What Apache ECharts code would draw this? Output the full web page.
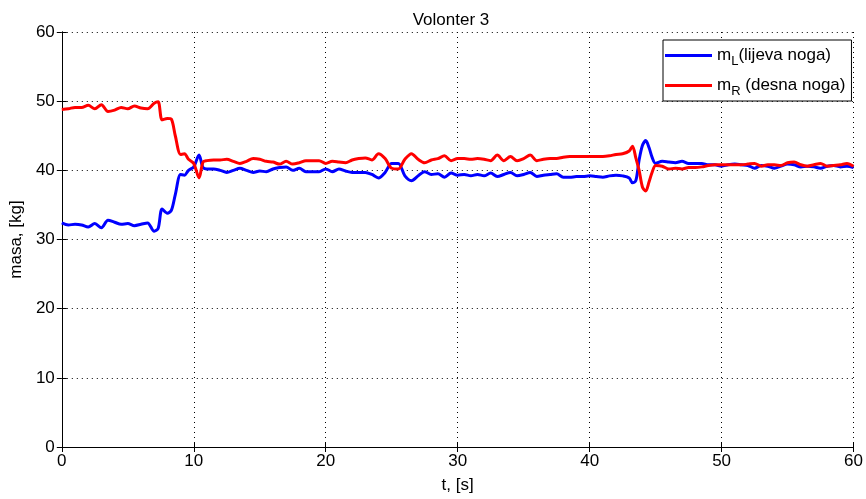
<!DOCTYPE html>
<html>
<head>
<meta charset="utf-8">
<script src="https://cdn.jsdelivr.net/npm/echarts@6/dist/echarts.min.js"></script>
<style>
  html, body { margin: 0; padding: 0; background: #fff; }
  #chart { width: 866px; height: 499px; }
</style>
</head>
<body>
<div id="chart"></div>
<script>
// time samples, [s]
const times = [
  0, 0.5, 1, 1.5, 2, 2.5, 3, 3.5, 4, 4.5, 5, 5.5, 6, 6.5, 7,
  7.3, 7.6, 8, 8.3, 8.6, 9, 9.3, 9.6, 10, 10.4, 10.7,
  11, 11.5, 12, 12.5, 13, 13.5, 14, 14.5, 15, 15.5, 16, 16.5, 17, 17.5, 18, 18.5,
  19, 19.5, 20, 20.5, 21, 21.5, 22, 22.5, 23, 23.5, 24, 24.5, 25, 25.5, 26, 26.5,
  27, 27.5, 28, 28.5, 29, 29.5, 30, 30.5, 31, 31.5, 32, 32.5, 33, 33.5, 34, 34.5,
  35, 35.5, 36, 36.5, 37, 37.5, 38, 38.5, 39, 39.5, 40, 40.5, 41, 41.5, 42, 42.5, 43,
  43.25, 43.5, 43.75, 44, 44.25, 44.5, 44.75,
  45, 45.5, 46, 46.5, 47, 47.5, 48, 48.5, 49, 49.5, 50, 50.5, 51, 51.5, 52, 52.5,
  53, 53.5, 54, 54.5, 55, 55.5, 56, 56.5, 57, 57.5, 58, 58.5, 59, 59.5, 60
];

// lijeva noga
const massL = [
  32.4, 32.1, 32.2, 32.1, 31.8, 32.3, 31.7, 32.8, 32.5, 32.2, 32.3, 32.0, 32.2, 32.4, 31.2,
  31.6, 34.4, 33.8, 34.2, 36.5, 39.4, 39.3, 40.0, 40.5, 42.2, 40.4,
  40.2, 40.2, 40.0, 39.7, 40.0, 40.3, 40.0, 39.7, 39.9, 39.8, 40.2, 40.4, 40.5, 40.0, 40.3, 39.8,
  39.8, 39.8, 40.2, 39.8, 40.2, 39.9, 39.7, 39.7, 39.7, 39.4, 38.9, 39.7, 41.0, 41.0, 39.2, 38.5,
  39.2, 39.8, 39.4, 39.5, 39.0, 39.6, 39.3, 39.4, 39.2, 39.4, 39.2, 39.6, 39.1, 39.4, 39.7, 39.2,
  39.4, 39.7, 39.1, 39.3, 39.4, 39.5, 39.0, 39.0, 39.1, 39.1, 39.2, 39.1, 39.0, 39.2, 39.3, 39.2, 38.9,
  38.2, 38.5, 41.5, 43.6, 44.3, 43.3, 41.8,
  41.0, 41.3, 41.2, 41.1, 41.3, 41.0, 41.0, 41.0, 40.8, 40.8, 40.6, 40.8, 40.9, 40.8, 40.7, 40.3,
  40.7, 40.6, 40.3, 40.6, 40.9, 40.8, 40.5, 40.6, 40.5, 40.3, 40.6, 40.7, 40.5, 40.6, 40.4
];

// desna noga
const massR = [
  48.8, 48.9, 49.1, 49.1, 49.4, 48.9, 49.5, 48.5, 48.7, 49.1, 48.9, 49.3, 49.0, 48.9, 49.7,
  49.9, 47.3, 47.5, 47.4, 45.0, 42.3, 42.4, 41.6, 41.0, 38.9, 41.2,
  41.4, 41.5, 41.5, 41.6, 41.3, 41.0, 41.3, 41.7, 41.6, 41.3, 41.2, 40.9, 41.3, 40.9, 41.1, 41.4,
  41.4, 41.4, 41.0, 41.3, 41.2, 41.1, 41.5, 41.7, 41.8, 41.5, 42.4, 41.7, 40.3, 40.2, 41.6, 42.4,
  41.6, 41.1, 41.5, 41.7, 42.1, 41.4, 41.7, 41.7, 41.6, 41.7, 41.6, 41.4, 42.2, 41.4, 42.0, 41.4,
  41.7, 42.2, 41.4, 41.6, 41.7, 41.7, 41.9, 42.0, 42.0, 42.0, 42.0, 42.0, 42.0, 42.1, 42.3, 42.4, 42.8,
  43.5, 41.8, 40.0, 37.6, 37.0, 38.3, 39.8,
  40.7, 40.6, 40.2, 40.3, 40.2, 40.4, 40.4, 40.5, 40.7, 40.8, 40.8, 40.8, 40.8, 40.8, 40.9, 41.0,
  40.6, 40.8, 40.8, 40.7, 41.1, 41.2, 40.8, 40.6, 40.8, 41.0, 40.6, 40.7, 40.8, 41.0, 40.6
];

const legendLabels = {
  mL: '{m|m}{sub|L}{m|(lijeva noga)}',
  mR: '{m|m}{sub|R}{m| (desna noga)}'
};

const FONT = 'Liberation Sans, Arial, sans-serif';

const chart = echarts.init(document.getElementById('chart'));

const gridLine = { show: true, lineStyle: { color: '#000', width: 1, type: [1, 4] } };
const tickIn = { show: true, inside: true, length: 5, lineStyle: { color: '#000' } };
const axisLineBlack = { show: true, lineStyle: { color: '#000', width: 1 } };

const pairs = (ys) => times.map((t, i) => [t, ys[i]]);

const option = {
  animation: false,
  backgroundColor: '#fff',
  title: {
    text: 'Volonter 3',
    left: 446,
    top: 7,
    textAlign: 'center',
    textStyle: { fontFamily: FONT, fontSize: 17, fontWeight: 'normal', color: '#000' }
  },
  grid: { left: 61, right: 11, top: 32, bottom: 47, containLabel: false },
  legend: {
    orient: 'vertical',
    left: 663,
    top: 40,
    padding: [3, 6, 3, 2],
    itemGap: 5,
    itemWidth: 47,
    itemHeight: 3,
    icon: 'rect',
    backgroundColor: '#fff',
    borderColor: '#000',
    borderWidth: 1,
    borderRadius: 0,
    data: ['mL', 'mR'],
    formatter: (name) => legendLabels[name],
    textStyle: {
      rich: {
        m: { fontFamily: FONT, fontSize: 17, color: '#000', lineHeight: 26 },
        sub: { fontFamily: FONT, fontSize: 13, color: '#000', lineHeight: 26, padding: [12, 0, 0, 0] }
      }
    }
  },
  xAxis: [{
    type: 'value',
    min: 0, max: 60, interval: 10,
    name: 't, [s]',
    nameLocation: 'middle',
    nameGap: 30,
    nameTextStyle: { fontFamily: FONT, fontSize: 17, color: '#000' },
    axisLine: axisLineBlack,
    axisTick: tickIn,
    axisLabel: { fontFamily: FONT, fontSize: 17, color: '#000', margin: 6 },
    splitLine: gridLine
  }, {
    type: 'value', position: 'top',
    min: 0, max: 60, interval: 10,
    axisLine: axisLineBlack, axisTick: tickIn,
    axisLabel: { show: false }, splitLine: { show: false }
  }],
  yAxis: [{
    type: 'value',
    min: 0, max: 60, interval: 10,
    name: 'masa, [kg]',
    nameLocation: 'middle',
    nameGap: 36,
    nameTextStyle: { fontFamily: FONT, fontSize: 17, color: '#000' },
    axisLine: axisLineBlack,
    axisTick: tickIn,
    axisLabel: { fontFamily: FONT, fontSize: 17, color: '#000', margin: 7 },
    splitLine: gridLine
  }, {
    type: 'value', position: 'right',
    min: 0, max: 60, interval: 10,
    axisLine: axisLineBlack, axisTick: tickIn,
    axisLabel: { show: false }, splitLine: { show: false }
  }],
  series: [
    {
      name: 'mL',
      type: 'line',
      data: pairs(massL),
      showSymbol: false,
      smooth: 0.3,
      color: '#0000ff',
      lineStyle: { color: '#0000ff', width: 3 },
      z: 3
    },
    {
      name: 'mR',
      type: 'line',
      data: pairs(massR),
      showSymbol: false,
      smooth: 0.3,
      color: '#ff0000',
      lineStyle: { color: '#ff0000', width: 3 },
      z: 4
    }
  ]
};

chart.setOption(option);
</script>
</body>
</html>
